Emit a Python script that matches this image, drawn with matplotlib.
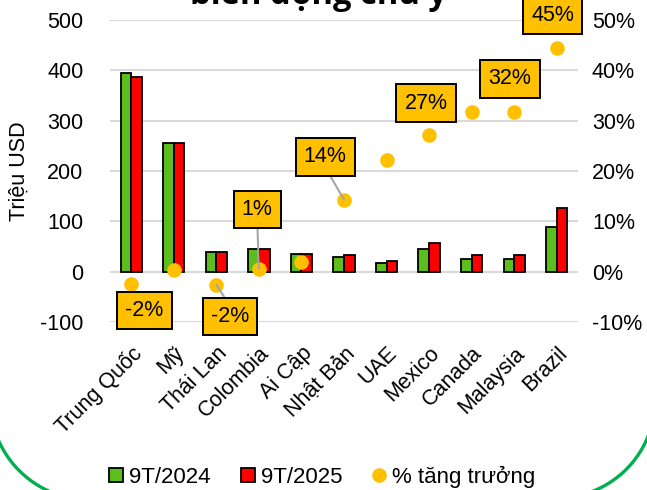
import matplotlib
matplotlib.use("Agg")
import matplotlib.pyplot as plt
import numpy as np
from matplotlib.lines import Line2D

plt.rcParams['font.family'] = ['Liberation Sans', 'DejaVu Sans']
plt.rcParams['axes.unicode_minus'] = False

countries = ["Trung Quốc", "Mỹ", "Thái Lan", "Colombia", "Ai Cập", "Nhật Bản",
             "UAE", "Mexico", "Canada", "Malaysia", "Brazil"]
val_2024 = [394, 255, 40, 46, 36, 30, 18, 45, 25, 25, 89]
val_2025 = [386, 256, 39, 46, 36, 34, 22, 57, 33, 33, 127]
growth = [-2.4, 0.3, -2.6, 0.6, 2.0, 14.3, 22.2, 27.2, 31.8, 31.8, 44.5]

# labelled points: index, text, box position (x, %), leader anchor on box
labels = [
    (0, "-2%", 0.31, -7.7, None),
    (2, "-2%", 2.32, -8.9, (0.5, 1)),
    (3, "1%", 2.96, 12.3, (0.5, 0)),
    (5, "14%", 4.56, 22.8, (0.5, 0)),
    (7, "27%", 6.93, 33.5, None),
    (9, "32%", 8.90, 38.3, None),
    (10, "45%", 9.90, 50.9, None),
]

GREEN = "#5BBD1E"
RED = "#FF0000"
GOLD = "#FFC000"
FS = 15.5

fig = plt.figure(figsize=(6.47, 4.90), dpi=100)
ax = fig.add_axes([110 / 647, 168 / 490, 468 / 647, 302 / 490])
ax2 = ax.twinx()

x = np.arange(len(countries))
w = 0.25
ax.bar(x - w / 2, val_2024, w, color=GREEN, edgecolor="black", linewidth=1.3, zorder=3)
ax.bar(x + w / 2, val_2025, w, color=RED, edgecolor="black", linewidth=1.3, zorder=3)

ax.set_ylim(-100, 500)
ax.set_xlim(-0.5, len(countries) - 0.5)
ax.set_yticks(range(-100, 501, 100))
ax.grid(axis="y", color="#D9D9D9", linewidth=1.5, zorder=0)
ax.set_axisbelow(True)
for s in ax.spines.values():
    s.set_visible(False)
for s in ax2.spines.values():
    s.set_visible(False)
ax.tick_params(axis="y", length=0, labelsize=FS, pad=19)
ax.tick_params(axis="x", length=0, labelsize=FS, pad=15)
ax.set_xticks(x)
ax.set_xticklabels(countries, rotation=45, ha="right", rotation_mode="anchor")
ax.set_ylabel("Triệu USD", fontsize=FS)
ax.yaxis.set_label_coords(-0.172, 0.5)

ax2.set_ylim(-10, 50)
ax2.set_yticks(range(-10, 51, 10))
ax2.set_yticklabels([f"{t}%" for t in range(-10, 51, 10)])
ax2.tick_params(axis="y", length=0, labelsize=FS, pad=10)
ax2.plot(x, growth, "o", color=GOLD, ms=10.5, mec="none", zorder=4)

for i, txt, bx, by, rel in labels:
    kw = {}
    if rel is not None:
        kw["arrowprops"] = dict(arrowstyle="-", color="#A6A6A6", lw=1.5,
                                relpos=rel, shrinkA=0, shrinkB=0)
    ax2.annotate(txt, xy=(i, growth[i]), xytext=(bx, by), textcoords="data",
                 ha="center", va="center", fontsize=FS, annotation_clip=False,
                 bbox=dict(boxstyle="square,pad=0.38", fc=GOLD, ec="black", lw=1.4),
                 zorder=5, **kw)

fig.text(318 / 647, 486 / 490, "biến động chủ y", ha="center", va="baseline",
         fontsize=23.5, fontweight="bold", family=["Open Sans", "DejaVu Sans"])

handles = [
    Line2D([], [], marker="s", ls="none", ms=10, mfc=GREEN, mec="black", mew=1.3),
    Line2D([], [], marker="s", ls="none", ms=10, mfc=RED, mec="black", mew=1.3),
    Line2D([], [], marker="o", ls="none", ms=10.5, mfc=GOLD, mec="none"),
]
fig.legend(handles, ["9T/2024", "9T/2025", "% tăng trưởng"], loc="center",
           bbox_to_anchor=(322 / 647, 13 / 490), ncol=3, frameon=False,
           fontsize=16, handlelength=0.7, handletextpad=0.25, columnspacing=1.3)

# green rounded frame, only the two lower corners show
t = np.linspace(np.pi, 1.5 * np.pi, 60)
fig.add_artist(Line2D((90 + 100 * np.cos(t)) / 647, (90 + 100 * np.sin(t)) / 490,
                      color="#00B050", lw=2.4, transform=fig.transFigure))
t = np.linspace(1.5 * np.pi, 2 * np.pi, 60)
fig.add_artist(Line2D((557 + 98 * np.cos(t)) / 647, (90 + 98 * np.sin(t)) / 490,
                      color="#00B050", lw=2.4, transform=fig.transFigure))

fig.savefig("out.png", dpi=100)
